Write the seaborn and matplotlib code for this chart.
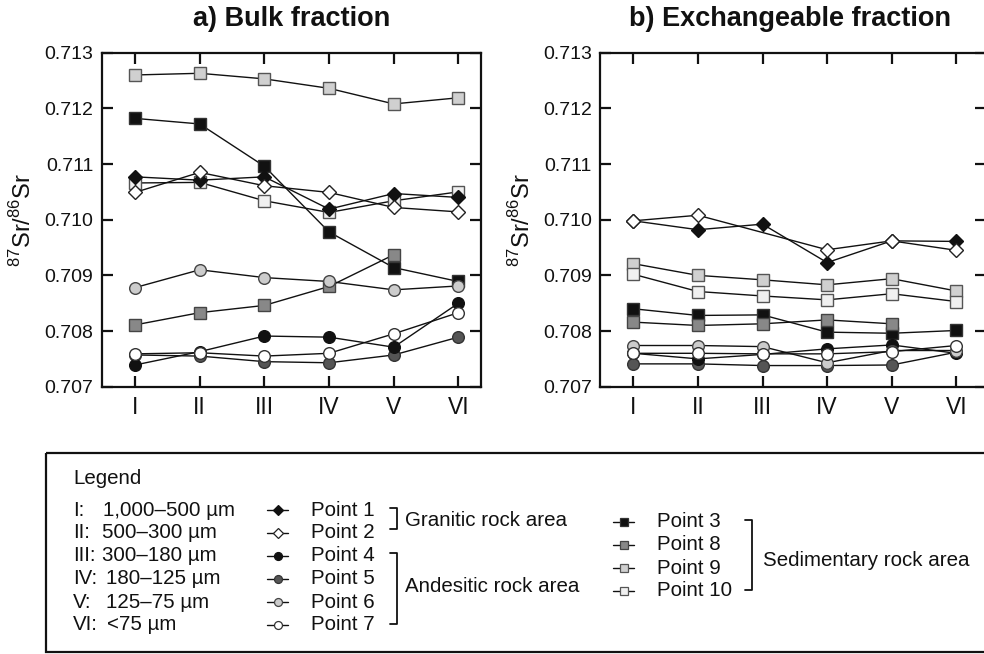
import numpy as np
import pandas as pd
import matplotlib
matplotlib.use("Agg")
import matplotlib.pyplot as plt
import seaborn as sns

# ---------------- data ----------------
fractions = ["I", "II", "III", "IV", "V", "VI"]
legend_ranges = [("I:", "1,000–500 µm"), ("II:", "500–300 µm"), ("III:", "300–180 µm"),
                 ("IV:", "180–125 µm"), ("V:", "125–75 µm"), ("VI:", "<75 µm")]

bulk_p1 = [0.71077, 0.71071, 0.71077, 0.71019, 0.71047, 0.71040]
bulk_p2 = [0.71049, 0.71085, 0.71061, 0.71049, 0.71022, 0.71014]
bulk_p3 = [0.71182, 0.71172, 0.71096, 0.70978, 0.70914, 0.70889]
bulk_p4 = [0.70739, 0.70763, 0.70791, 0.70789, 0.70771, 0.70850]
bulk_p5 = [0.70757, 0.70755, 0.70745, 0.70743, 0.70757, 0.70789]
bulk_p6 = [0.70878, 0.70910, 0.70896, 0.70889, 0.70874, 0.70881]
bulk_p7 = [0.70759, 0.70761, 0.70755, 0.70760, 0.70795, 0.70833]
bulk_p8 = [0.70811, 0.70833, 0.70846, 0.70880, 0.70937, np.nan]
bulk_p9 = [0.71260, 0.71263, 0.71253, 0.71236, 0.71208, 0.71219]
bulk_p10 = [0.71066, 0.71067, 0.71034, 0.71013, 0.71034, 0.71050]

exch_p1 = [0.70998, 0.70982, 0.70992, 0.70923, 0.70962, 0.70961]
exch_p2 = [0.70998, 0.71008, np.nan, 0.70946, 0.70962, 0.70945]
exch_p3 = [0.70840, 0.70828, 0.70829, 0.70798, 0.70796, 0.70801]
exch_p4 = [0.70760, 0.70750, 0.70758, 0.70768, 0.70775, 0.70760]
exch_p5 = [0.70741, 0.70741, 0.70738, 0.70738, 0.70739, 0.70762]
exch_p6 = [0.70774, 0.70774, 0.70772, 0.70743, 0.70765, 0.70765]
exch_p7 = [0.70760, 0.70760, 0.70759, 0.70759, 0.70763, 0.70774]
exch_p8 = [0.70816, 0.70810, 0.70813, 0.70820, 0.70813, np.nan]
exch_p9 = [0.70921, 0.70900, 0.70892, 0.70883, 0.70894, 0.70872]
exch_p10 = [0.70902, 0.70871, 0.70863, 0.70856, 0.70867, 0.70853]

point_names = ["Point 3", "Point 8", "Point 9", "Point 10", "Point 1", "Point 2",
               "Point 5", "Point 4", "Point 6", "Point 7"]
bulk = dict(zip(point_names, [bulk_p3, bulk_p8, bulk_p9, bulk_p10, bulk_p1, bulk_p2,
                              bulk_p5, bulk_p4, bulk_p6, bulk_p7]))
exch = dict(zip(point_names, [exch_p3, exch_p8, exch_p9, exch_p10, exch_p1, exch_p2,
                              exch_p5, exch_p4, exch_p6, exch_p7]))

# styles: (marker, facecolor, edgecolor, size)
styles = {
    "Point 1": ("D", "#111111", "#111111", 7.2),
    "Point 2": ("D", "#ffffff", "#222222", 7.2),
    "Point 3": ("s", "#111111", "#333333", 8.4),
    "Point 4": ("o", "#111111", "#111111", 8.4),
    "Point 5": ("o", "#555555", "#333333", 8.4),
    "Point 6": ("o", "#cccccc", "#444444", 8.4),
    "Point 7": ("o", "#ffffff", "#333333", 8.4),
    "Point 8": ("s", "#888888", "#444444", 8.4),
    "Point 9": ("s", "#d0d0d0", "#555555", 8.4),
    "Point 10": ("s", "#f0f0f0", "#555555", 8.4),
}

# ---------------- figure ----------------
sns.set_theme(style="ticks")
plt.rcParams["font.family"] = ["Liberation Sans", "DejaVu Sans"]
plt.rcParams["mathtext.fontset"] = "custom"
plt.rcParams["mathtext.rm"] = "Liberation Sans"

W, H = 984, 654
fig = plt.figure(figsize=(W / 100, H / 100), dpi=100)

def px_axes(l, r, t, b):
    return fig.add_axes([l / W, 1 - b / H, (r - l) / W, (b - t) / H])

ax_a = px_axes(101.7, 481, 52.7, 386.7)
ax_b = px_axes(600, 986, 52.7, 386.7)

xpos = np.arange(1, 7)

def draw_panel(ax, data, title, xlim):
    for name in point_names:
        y = np.array(data[name], dtype=float)
        df = pd.DataFrame({"x": xpos, "y": y}).dropna()
        m, fc, ec, ms = styles[name]
        sns.lineplot(data=df, x="x", y="y", ax=ax, color="#111111", lw=1.0,
                     marker=m, markersize=ms, markerfacecolor=fc,
                     markeredgecolor=ec, markeredgewidth=1.0, sort=False)
    ax.set_xlim(*xlim)
    ax.set_ylim(0.707, 0.713)
    ax.set_xticks(xpos)
    ax.set_xticklabels(fractions, fontsize=16.5)
    ax.set_yticks([0.707, 0.708, 0.709, 0.710, 0.711, 0.712, 0.713])
    ax.set_yticklabels(["0.707", "0.708", "0.709", "0.710", "0.711", "0.712", "0.713"],
                       fontsize=14)
    ax.tick_params(axis="both", direction="in", length=8, width=1.6, colors="#111111",
                   top=True, right=True, labelcolor="#111111")
    ax.tick_params(axis="x", pad=7)
    ax.tick_params(axis="y", pad=6)
    for s in ax.spines.values():
        s.set_linewidth(1.6)
        s.set_color("#111111")
    ax.set_xlabel("")
    ax.set_ylabel(r"$^{87}$Sr/$^{86}$Sr", fontsize=17, labelpad=6, color="#111111")
    ax.set_title(title, fontsize=19.5, fontweight="bold", pad=19.5, color="#111111")
    ax.grid(False)

draw_panel(ax_a, bulk, "a) Bulk fraction", (0.485, 6.35))
draw_panel(ax_b, exch, "b) Exchangeable fraction", (0.484, 6.46))
ax_b.title.set_position(((790 - 600) / 386, 1.0))

# ---------------- legend box (pixel coordinates) ----------------
lg = fig.add_axes([0, 0, 1, 1], zorder=5)
lg.set_xlim(0, W)
lg.set_ylim(H, 0)
lg.axis("off")
lg.patch.set_alpha(0)

lg.add_patch(plt.Rectangle((46, 453), 960, 199, fill=False, lw=1.6, ec="#111111"))
fs = 14.8
lg.text(73, 479, "Legend", fontsize=fs, va="center", ha="left", color="#111111")

rows = [510, 532.5, 555.5, 578.5, 602, 625]
range_x = [103, 102, 102, 106, 106, 107]
for (lab, rng), y, rx in zip(legend_ranges, rows, range_x):
    lg.text(73, y, lab, fontsize=fs, va="center", ha="left", color="#111111")
    lg.text(rx, y, rng, fontsize=fs, va="center", ha="left", color="#111111")

def handle(x0, y, name):
    m, fc, ec, ms = styles[name]
    lg.plot([x0, x0 + 21], [y, y], color="#111111", lw=1.0)
    lg.plot([x0 + 10.5], [y], marker=m, ms=ms * 0.68, mfc=fc, mec=ec, mew=0.9,
            color="#111111")
    lg.text(x0 + 44, y, name, fontsize=fs, va="center", ha="left", color="#111111")

col2 = ["Point 1", "Point 2", "Point 4", "Point 5", "Point 6", "Point 7"]
for name, y in zip(col2, rows):
    handle(267, y, name)

col3 = ["Point 3", "Point 8", "Point 9", "Point 10"]
rows3 = [521.5, 545, 568, 591]
for name, y in zip(col3, rows3):
    handle(613, y, name)

def bracket(x, y0, y1):
    lg.plot([x - 7, x, x, x - 7], [y0, y0, y1, y1], color="#111111", lw=1.3)

bracket(397, 508, 529)
bracket(397, 553, 624)
bracket(752, 520, 590)
lg.text(405, 520, "Granitic rock area", fontsize=fs, va="center", ha="left", color="#111111")
lg.text(405, 587, "Andesitic rock area", fontsize=fs, va="center", ha="left", color="#111111")
lg.text(763, 560, "Sedimentary rock area", fontsize=fs, va="center", ha="left", color="#111111")

fig.savefig("out.png", dpi=100)
